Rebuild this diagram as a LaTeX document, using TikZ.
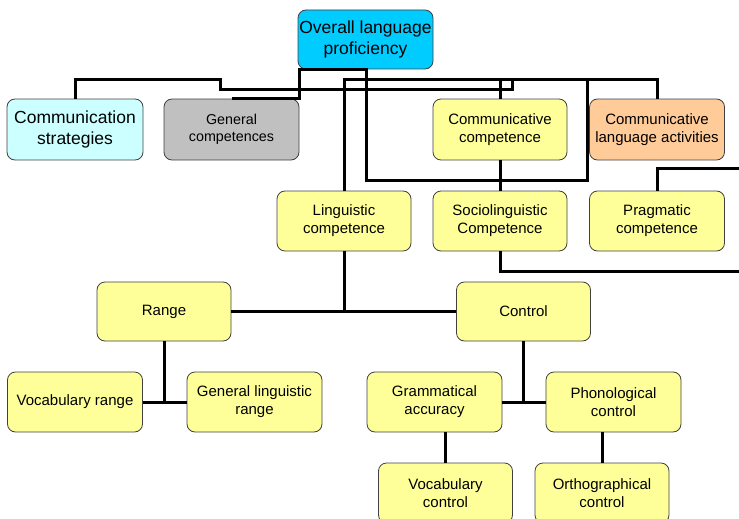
\documentclass[tikz,border=0pt]{standalone}
\usepackage{fontspec}
\setmainfont{Liberation Sans}
\definecolor{cyanbox}{HTML}{00CCFF}
\definecolor{lcyan}{HTML}{CCFFFF}
\definecolor{graybox}{HTML}{C0C0C0}
\definecolor{ybox}{HTML}{FFFF99}
\definecolor{obox}{HTML}{FFCC99}
\begin{document}
\begin{tikzpicture}[x=1pt,y=-1pt,
  box/.style={draw=black!75, line width=0.8pt, rounded corners=8pt, align=center,
    inner sep=1pt, fill=ybox, minimum width=134pt, minimum height=60pt,
    font=\fontsize{15}{18}\selectfont},
  big/.style={font=\fontsize{17.5}{20.5}\selectfont},
  conn/.style={line width=3pt, black}]
\useasboundingbox (0,0) rectangle (739,519);
% nodes
\node[box, big, fill=cyanbox, minimum width=135pt, minimum height=59pt] (ov) at (365.5,39.5) {Overall language\\proficiency};
\node[box, big, fill=lcyan, minimum width=136pt, minimum height=61pt] (cs) at (75,129.5) {Communication\\strategies};
\node[box, fill=graybox, minimum width=135pt, minimum height=61pt, font=\fontsize{14.3}{17}\selectfont] (gc) at (231.5,129.5) {General\\competences};
\node[box, minimum height=61pt] (cc) at (500,129.5) {Communicative\\competence};
\node[box, fill=obox, minimum width=135pt, minimum height=61pt] (cla) at (657,129.5) {Communicative\\language activities};
\node[box] (lc) at (344,221) {Linguistic\\competence};
\node[box] (sc) at (500,221) {Sociolinguistic\\Competence};
\node[box, minimum width=135pt] (pc) at (657,221) {Pragmatic\\competence};
\node[box, minimum height=59pt] (range) at (164,311.5) {Range};
\node[box, minimum height=59pt] (control) at (523.5,311.5) {Control};
\node[box, minimum width=135pt] (vr) at (75,402) {Vocabulary range};
\node[box, minimum width=135pt] (glr) at (254.5,402) {General linguistic\\range};
\node[box, minimum width=135pt] (ga) at (434.5,402) {Grammatical\\accuracy};
\node[box, minimum width=135pt] (phc) at (613.5,402) {Phonological\\control};
\node[box] (vc) at (445.5,493) {Vocabulary\\control};
\node[box] (oc) at (602,493) {Orthographical\\control};
% free ends
\coordinate (e1) at (739,168);
\coordinate (e2) at (739,271);
% connectors
\draw[conn] (cs.north) |- (220,80) |- (512,89.5) -- (512,80);
\draw[conn] (gc.north) -| (299,70) -| (366,180) -| (587,80);
\draw[conn] (lc.north) -- (344,80) -| (cla.north);
\draw[conn] (cc.north) -- (cc.north |- 0,80);
\draw[conn] (cc.south) -- (sc.north);
\draw[conn] (pc.north) |- (e1);
\draw[conn] (sc.south) |- (e2);
\draw[conn] (range.east) -- (control.west);
\draw[conn] (lc.south) -- (lc.south |- range.east);
\draw[conn] (vr.east) -- (glr.west);
\draw[conn] (range.south) -- (range.south |- vr.east);
\draw[conn] (ga.east) -- (phc.west);
\draw[conn] (control.south) -- (control.south |- ga.east);
\draw[conn] (vc.north) -- (vc.north |- ga.south);
\draw[conn] (oc.north) -- (oc.north |- phc.south);
\end{tikzpicture}
\end{document}
